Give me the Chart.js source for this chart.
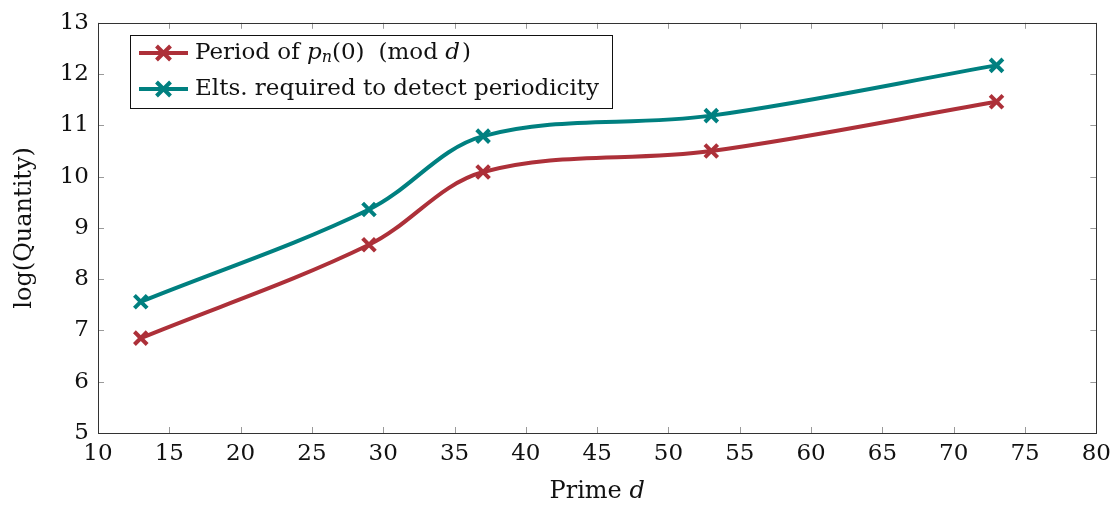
<!DOCTYPE html>
<html>
<head>
<meta charset="utf-8">
<script src="https://cdn.jsdelivr.net/npm/chart.js@4.4.1/dist/chart.umd.min.js"></script>
<style>
  html, body { margin: 0; padding: 0; background: #fff; }
  #wrap { width: 1118px; height: 510px; }
</style>
</head>
<body>
<div id="wrap"><canvas id="c" width="1118" height="510"></canvas></div>
<script>
// values
var primes = [13, 29, 37, 53, 73];
var periodLog = [6.85, 8.67, 10.09, 10.50, 11.46];
var eltsLog = [7.56, 9.36, 10.79, 11.19, 12.17];
var seriesNames = ['Period of p_n(0) (mod d)', 'Elts. required to detect periodicity'];
var xMin = 10, xMax = 80, xStep = 5;
var yMin = 5, yMax = 13, yStep = 1;

var RED = '#ad3039';
var TEAL = '#008080';
var SERIF = '"DejaVu Serif", "Liberation Serif", serif';

function pts(xs, ys) {
  var out = [];
  for (var i = 0; i < xs.length; i++) out.push({ x: xs[i], y: ys[i] });
  return out;
}

// draw a row of text pieces with mixed fonts
function drawRuns(ctx, x, y, runs) {
  ctx.textBaseline = 'middle';
  ctx.textAlign = 'left';
  for (var i = 0; i < runs.length; i++) {
    var r = runs[i];
    ctx.font = r.font;
    ctx.fillText(r.t, x, y + (r.dy || 0));
    x += ctx.measureText(r.t).width + (r.gap || 0);
  }
  return x;
}

var framePlugin = {
  id: 'frame',
  beforeDatasetsDraw: function(chart) {
    var ctx = chart.ctx, a = chart.chartArea;
    var xs = chart.scales.x, ys = chart.scales.y;
    ctx.save();
    ctx.strokeStyle = '#9a9a9a';
    ctx.lineWidth = 1;
    ctx.beginPath();
    xs.ticks.forEach(function(t) {
      var px = Math.round(xs.getPixelForValue(t.value)) + 0.5;
      ctx.moveTo(px, a.bottom); ctx.lineTo(px, a.bottom - 6);
      ctx.moveTo(px, a.top); ctx.lineTo(px, a.top + 6);
    });
    ys.ticks.forEach(function(t) {
      var py = Math.round(ys.getPixelForValue(t.value)) + 0.5;
      ctx.moveTo(a.left, py); ctx.lineTo(a.left + 6, py);
      ctx.moveTo(a.right, py); ctx.lineTo(a.right - 6, py);
    });
    ctx.stroke();
    ctx.strokeStyle = '#333';
    ctx.strokeRect(Math.round(a.left) + 0.5, Math.round(a.top) + 0.5, Math.round(a.right - a.left), Math.round(a.bottom - a.top));
    ctx.restore();
  },
  afterDraw: function(chart) {
    var ctx = chart.ctx, a = chart.chartArea;
    ctx.save();
    // x axis title with italic d
    ctx.fillStyle = '#111';
    var tf = '24px ' + SERIF, tif = 'italic 24px ' + SERIF;
    ctx.font = tf;
    var w1 = ctx.measureText('Prime ').width;
    ctx.font = tif;
    var w2 = ctx.measureText('d').width;
    var cx = (a.left + a.right) / 2;
    drawRuns(ctx, cx - (w1 + w2) / 2, 492, [
      { t: 'Prime ', font: tf },
      { t: 'd', font: tif }
    ]);

    // legend box in the upper left of the plot
    var bx = 130.5, by = 35.5, bw = 482, bh = 73;
    ctx.fillStyle = '#fff';
    ctx.fillRect(bx, by, bw, bh);
    ctx.strokeStyle = '#111';
    ctx.lineWidth = 1;
    ctx.strokeRect(bx, by, bw, bh);
    var rows = [53, 89];
    var ds = chart.data.datasets;
    for (var i = 0; i < ds.length; i++) {
      var y = rows[i];
      ctx.strokeStyle = ds[i].borderColor;
      ctx.lineWidth = 4;
      ctx.lineCap = 'butt';
      ctx.beginPath();
      ctx.moveTo(139, y); ctx.lineTo(188, y);
      ctx.stroke();
      var r = 7;
      ctx.beginPath();
      ctx.moveTo(163.5 - r, y - r); ctx.lineTo(163.5 + r, y + r);
      ctx.moveTo(163.5 - r, y + r); ctx.lineTo(163.5 + r, y - r);
      ctx.stroke();
      ctx.fillStyle = '#111';
    }
    var rf = '23px ' + SERIF, itf = 'italic 23px ' + SERIF, sf = 'italic 16px ' + SERIF;
    drawRuns(ctx, 195, rows[0], [
      { t: 'Period of ', font: rf },
      { t: 'p', font: itf },
      { t: 'n', font: sf, dy: 5 },
      { t: '(0)', font: rf, gap: 14 },
      { t: '(mod ', font: rf },
      { t: 'd', font: itf, gap: 2 },
      { t: ')', font: rf }
    ]);
    drawRuns(ctx, 195, rows[1], [{ t: seriesNames[1], font: rf }]);
    ctx.restore();
  }
};

var ctx = document.getElementById('c').getContext('2d');
new Chart(ctx, {
  type: 'line',
  data: {
    datasets: [
      { label: seriesNames[0], data: pts(primes, periodLog), borderColor: RED, backgroundColor: RED,
        borderWidth: 4, pointStyle: 'crossRot', pointRadius: 9, pointBorderWidth: 4, pointBorderColor: RED,
        tension: 0.35, fill: false },
      { label: seriesNames[1], data: pts(primes, eltsLog), borderColor: TEAL, backgroundColor: TEAL,
        borderWidth: 4, pointStyle: 'crossRot', pointRadius: 9, pointBorderWidth: 4, pointBorderColor: TEAL,
        tension: 0.35, fill: false }
    ]
  },
  options: {
    responsive: false,
    animation: false,
    layout: { padding: { left: 0, right: 20, top: 22, bottom: 0 } },
    plugins: { legend: { display: false }, tooltip: { enabled: false } },
    scales: {
      x: {
        type: 'linear', min: xMin, max: xMax,
        ticks: { stepSize: xStep, color: '#111', font: { family: SERIF, size: 23 }, padding: 7, maxRotation: 0 },
        grid: { display: false, drawTicks: false },
        border: { display: false },
        afterFit: function(s) { s.height = 77; }
      },
      y: {
        min: yMin, max: yMax,
        ticks: { stepSize: yStep, color: '#111', font: { family: SERIF, size: 23 }, padding: 9 },
        grid: { display: false, drawTicks: false },
        border: { display: false },
        title: { display: true, text: 'log(Quantity)', color: '#111', font: { family: SERIF, size: 24 }, padding: { top: 10, bottom: 4 } },
        afterFit: function(s) { s.width = 98; }
      }
    }
  },
  plugins: [framePlugin]
});
</script>
</body>
</html>
